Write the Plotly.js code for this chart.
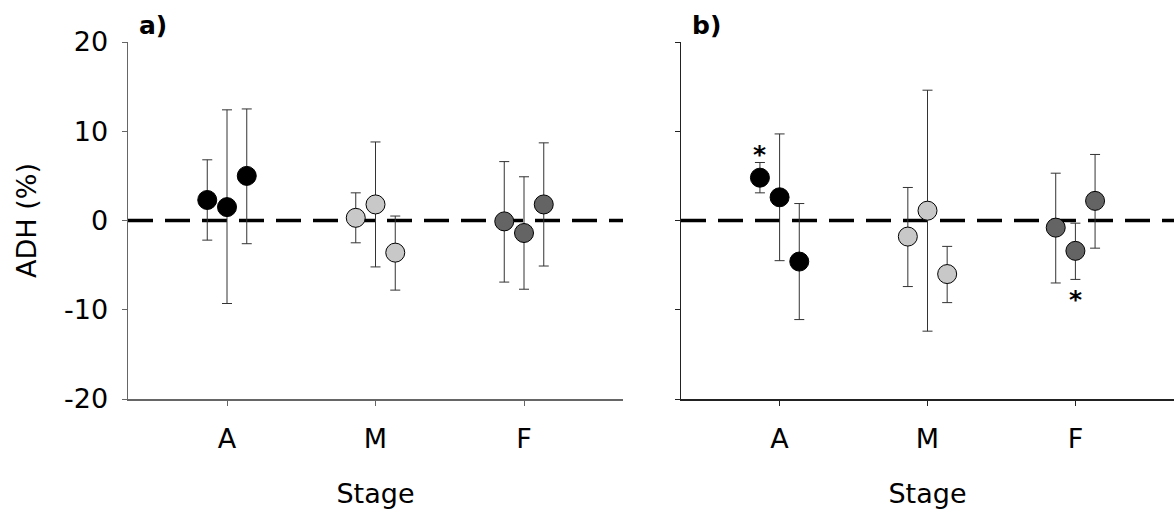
<!DOCTYPE html>
<html>
<head>
<meta charset="utf-8">
<script src="https://cdn.plot.ly/plotly-3.0.1.min.js"></script>
<style>html,body{margin:0;padding:0;background:#fff;}#chart{width:1174px;height:512px;}</style>
</head>
<body>
<div id="chart"></div>
<script>
// ---- data ----
const stages = ['A', 'M', 'F'];
const stageColors = ['#000000', '#c8c8c8', '#646464'];
const panelLabels = ['a)', 'b)'];

// panel a: mean ADH (%) per stage, three points each
const aValues   = [[2.3, 1.5, 5.0], [0.3, 1.8, -3.6], [-0.1, -1.4, 1.8]];
const aErrPlus  = [[4.5, 10.9, 7.5], [2.8, 7.0, 4.1], [6.7, 6.3, 6.9]];
const aErrMinus = [[4.5, 10.8, 7.6], [2.8, 7.0, 4.2], [6.8, 6.3, 6.9]];

// panel b
const bValues   = [[4.8, 2.6, -4.6], [-1.8, 1.1, -6.0], [-0.8, -3.4, 2.2]];
const bErrPlus  = [[1.7, 7.1, 6.5], [5.5, 13.5, 3.1], [6.1, 3.1, 5.2]];
const bErrMinus = [[1.7, 7.1, 6.5], [5.6, 13.5, 3.2], [6.2, 3.2, 5.3]];

// significance marks in panel b: [stage index, point index, 'above'|'below']
const bStars = [[0, 0, 'above'], [2, 1, 'below']];

const yTicks = [-20, -10, 0, 10, 20];
const yTickText = ['-20', '-10', '0', '10', '20'];

// ---- layout helpers ----
const offsets = [-0.133, 0, 0.133];
const FONT = 'DejaVu Sans, sans-serif';
const FS = 27;

function panelTraces(values, plus, minus, xa, ya) {
  return stages.map((s, si) => ({
    type: 'scatter', mode: 'markers',
    x: values[si].map((v, k) => si + 1 + offsets[k]),
    y: values[si],
    xaxis: xa, yaxis: ya,
    marker: {size: 19, color: stageColors[si], line: {color: '#000', width: 1}},
    error_y: {type: 'data', symmetric: false, array: plus[si], arrayminus: minus[si],
              color: '#333', thickness: 1, width: 5},
    showlegend: false, hoverinfo: 'skip', cliponaxis: false
  }));
}

const traces = [
  ...panelTraces(aValues, aErrPlus, aErrMinus, 'x', 'y'),
  ...panelTraces(bValues, bErrPlus, bErrMinus, 'x2', 'y2')
];

const yDom = [113 / 512, 470 / 512];
function xAxis(domain, col) {
  return {
    domain: domain, range: [1 / 3, 3 + 2 / 3],
    tickvals: [1, 2, 3], ticktext: stages,
    ticks: 'outside', ticklen: 5, tickcolor: col, tickwidth: 1,
    showline: true, linecolor: col, linewidth: 1.5,
    showgrid: false, zeroline: false,
    tickfont: {family: FONT, size: FS, color: '#000'},
    ticklabelstandoff: 10,
    title: {text: 'Stage', font: {family: FONT, size: FS, color: '#000'}, standoff: 31}
  };
}
function yAxis(anchor, labels, col) {
  return {
    domain: yDom, range: [-20, 20], anchor: anchor,
    tickvals: yTicks, ticktext: yTickText, showticklabels: labels,
    ticks: 'outside', ticklen: 5, tickcolor: col, tickwidth: 1,
    showline: true, linecolor: col, linewidth: 1.5,
    showgrid: false, zeroline: false,
    tickfont: {family: FONT, size: FS, color: '#000'},
    ticklabelstandoff: 8,
    title: labels ? {text: 'ADH (%)', font: {family: FONT, size: FS, color: '#000'}, standoff: 19} : {text: ''}
  };
}

const annotations = [
  {xref: 'paper', yref: 'paper', x: 137 / 1174, y: 1 - 25 / 512, xanchor: 'left', yanchor: 'middle',
   text: '<b>' + panelLabels[0] + '</b>', showarrow: false, font: {family: FONT, size: 25, color: '#000'}},
  {xref: 'paper', yref: 'paper', x: 690 / 1174, y: 1 - 25 / 512, xanchor: 'left', yanchor: 'middle',
   text: '<b>' + panelLabels[1] + '</b>', showarrow: false, font: {family: FONT, size: 25, color: '#000'}}
];
bStars.forEach(([si, k, pos]) => {
  const v = bValues[si][k];
  const yEnd = pos === 'above' ? v + bErrPlus[si][k] : v - bErrMinus[si][k];
  annotations.push({
    xref: 'x2', yref: 'y2', x: si + 1 + offsets[k], y: yEnd,
    xanchor: 'center', yanchor: pos === 'above' ? 'bottom' : 'top',
    yshift: pos === 'above' ? -9 : -4,
    text: '<b>*</b>', showarrow: false, font: {family: FONT, size: 25, color: '#000'}
  });
});

const dash = {color: '#000', width: 3.5, dash: '25px,12px'};
const layout = {
  width: 1174, height: 512,
  margin: {l: 0, r: 0, t: 0, b: 0, autoexpand: false},
  paper_bgcolor: '#fff', plot_bgcolor: '#fff',
  showlegend: false,
  xaxis: Object.assign(xAxis([128 / 1174, 623 / 1174], '#666'), {anchor: 'y'}),
  yaxis: yAxis('x', true, '#666'),
  xaxis2: Object.assign(xAxis([681 / 1174, 1], '#222'), {anchor: 'y2'}),
  yaxis2: yAxis('x2', false, '#222'),
  shapes: [
    {type: 'line', xref: 'x domain', yref: 'y', x0: 0, x1: 1, y0: 0, y1: 0, line: dash, layer: 'below'},
    {type: 'line', xref: 'x2 domain', yref: 'y2', x0: 0, x1: 1, y0: 0, y1: 0, line: dash, layer: 'below'}
  ],
  annotations: annotations
};

Plotly.newPlot('chart', traces, layout, {staticPlot: true, displayModeBar: false});
</script>
</body>
</html>
